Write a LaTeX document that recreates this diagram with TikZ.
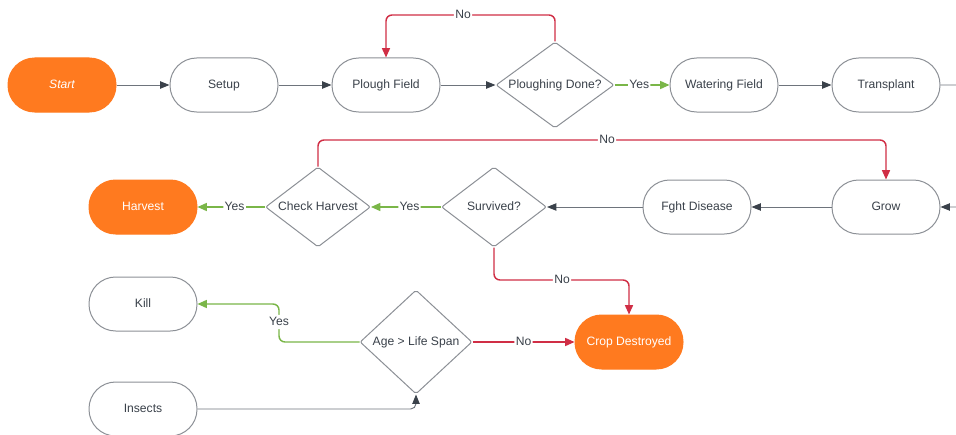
\documentclass[tikz,border=0pt]{standalone}
\usepackage{fontspec}
\setmainfont{Liberation Sans}
\usetikzlibrary{shapes.geometric,arrows.meta}
\definecolor{lcorange}{HTML}{FF7A1F}
\definecolor{lcred}{HTML}{D02E45}
\definecolor{lcgreen}{HTML}{7AB648}
\definecolor{lctext}{HTML}{3A414A}
\definecolor{lcborder}{HTML}{8C9096}
\definecolor{lcline}{HTML}{6E747C}
\tikzset{
  every node/.style={font=\fontsize{9.1}{11}\selectfont, text=lctext, text height=6.8pt, text depth=1.8pt},
  term/.style={draw=lcborder, line width=0.75pt, rounded corners=20pt, minimum width=81pt, minimum height=40.5pt, inner sep=0pt, fill=white},
  termhot/.style={term, draw=lcorange, fill=lcorange, text=white},
  decide/.style={draw=lcborder, line width=0.75pt, diamond, inner sep=0pt, fill=white, rounded corners=1.5pt},
  flow/.style={draw=lcline, line width=0.7pt, -{Triangle[length=7pt,width=5.5pt,color=lctext]}},
  noflow/.style={draw=lcred, line width=1.1pt, rounded corners=4.5pt, -{Triangle[length=7pt,width=6pt]}},
  yesflow/.style={draw=lcgreen, line width=1.1pt, rounded corners=4.5pt, -{Triangle[length=7pt,width=6pt]}},
  lab/.style={fill=white, inner sep=1pt, text=lctext},
}
\begin{document}
\begin{tikzpicture}[x=0.75pt, y=-0.75pt]
\useasboundingbox (0,0) rectangle (956,435);
\clip (0,0) rectangle (956,435);
% row 1
\node[termhot, font=\fontsize{9.1}{11}\selectfont\itshape] (start) at (62,85) {Start};
\node[term] (setup) at (224,85) {Setup};
\node[term] (plough) at (386,85) {Plough Field};
\node[decide, aspect=1.372, minimum width=88.5pt, minimum height=64.5pt] (pdone) at (555,85) {Ploughing Done?};
\node[term] (water) at (724,85) {Watering Field};
\node[term] (trans) at (886,85) {Transplant};
% row 2
\node[termhot] (harvest) at (143,207) {Harvest};
\node[decide, aspect=1.31, minimum width=78.75pt, minimum height=60pt] (check) at (318,207) {Check Harvest};
\node[decide, aspect=1.31, minimum width=78.75pt, minimum height=60pt] (surv) at (494,207) {Survived?};
\node[term] (fight) at (697,207) {Fght Disease};
\node[term] (grow) at (886,207) {Grow};
% row 3
\node[term] (kill) at (143,304) {Kill};
\node[decide, aspect=1.077, minimum width=84pt, minimum height=78pt] (age) at (416,342) {Age > Life Span};
\node[termhot] (crop) at (629,342) {Crop Destroyed};
\node[term] (insects) at (143,409) {Insects};
\coordinate (offr) at (975,85);
% connectors
\draw[flow] (start) -- (setup);
\draw[flow] (setup) -- (plough);
\draw[flow] (plough) -- (pdone);
\draw[noflow] (pdone.north) |- (463,15) node[lab] {No} -| (plough.north);
\draw[yesflow] (pdone.east) -- node[lab, pos=0.45] {Yes} (water.west);
\draw[flow] (water) -- (trans);
\draw[flow, rounded corners=4pt] (trans.east) -- (offr) |- (grow.east);
\draw[flow] (grow) -- (fight);
\draw[flow] (fight) -- (surv);
\draw[yesflow] (surv.west) -- node[lab, pos=0.45] {Yes} (check.east);
\draw[yesflow] (check.west) -- node[lab, pos=0.45] {Yes} (harvest.east);
\draw[noflow] (check.north) |- (607,140) node[lab] {No} -| (grow.north);
\draw[noflow] (surv.south) |- (562,280) node[lab] {No} -| (crop.north);
\draw[yesflow] (age.west) -| (279,322) node[lab] {Yes} |- (kill.east);
\draw[noflow] (age.east) -- node[lab] {No} (crop.west);
\draw[flow, rounded corners=4pt] (insects.east) -| (age.south);
\end{tikzpicture}
\end{document}
